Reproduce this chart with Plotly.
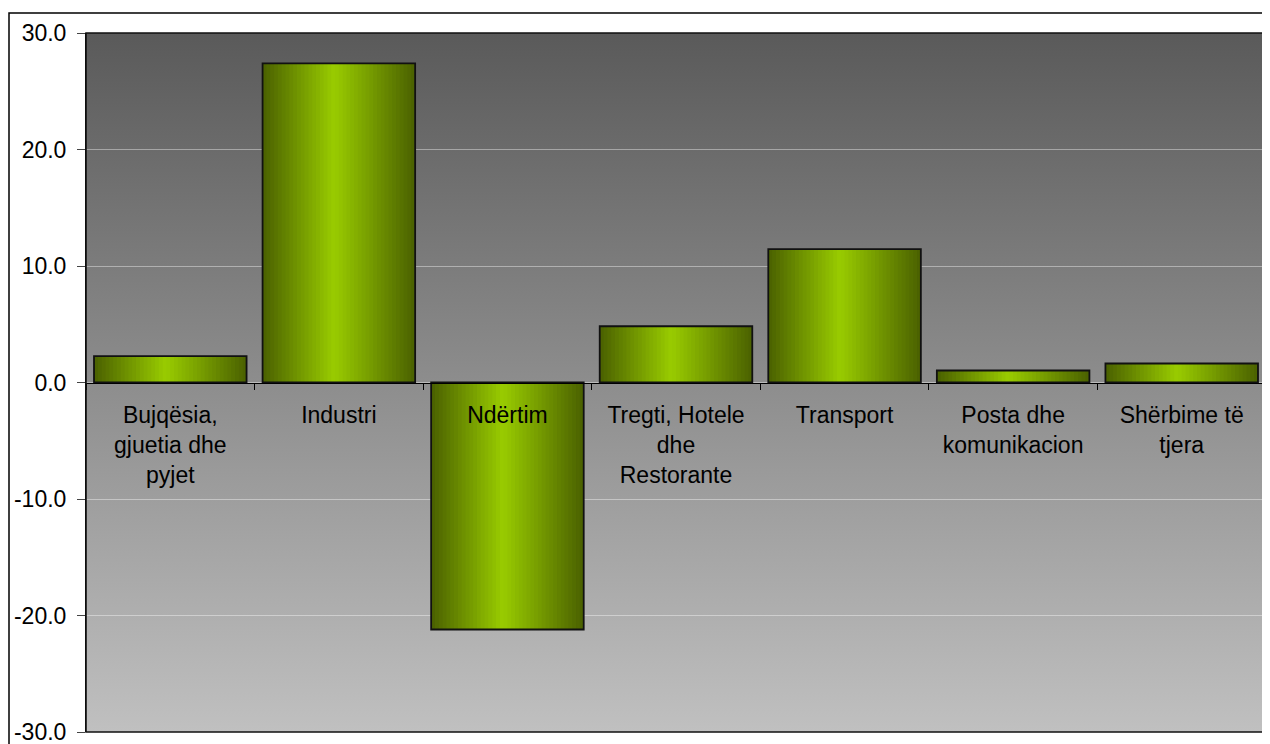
import base64
import plotly.graph_objects as go

# ---- data ----
categories = [
    "Bujqësia,<br>gjuetia dhe<br>pyjet",
    "Industri",
    "Ndërtim",
    "Tregti, Hotele<br>dhe<br>Restorante",
    "Transport",
    "Posta dhe<br>komunikacion",
    "Shërbime të<br>tjera",
]
values = [2.26, 27.4, -21.2, 4.83, 11.44, 1.03, 1.63]
y_ticks = [-30, -20, -10, 0, 10, 20, 30]
y_tick_labels = ["-30.0", "-20.0", "-10.0", "0.0", "10.0", "20.0", "30.0"]

# ---- styling ----
FONT = "Liberation Sans, Arial, sans-serif"
FS = 23
BAR_W = 0.905
N_SLICES = 40
DARK = (74, 96, 0)
BRIGHT = (153, 204, 0)
PEAK = 0.47

fig = go.Figure()

# gradient bars built from narrow overlaid slices of the same data
sw = BAR_W / N_SLICES
for i in range(N_SLICES):
    t = (i + 0.5) / N_SLICES
    if t < PEAK:
        f = t / PEAK
    else:
        f = (1 - t) / (1 - PEAK)
    f = max(0.0, min(1.0, f))
    c = tuple(int(round(DARK[k] + (BRIGHT[k] - DARK[k]) * f)) for k in range(3))
    off = -BAR_W / 2 + i * sw
    w = min(sw * 1.3, BAR_W / 2 - off)
    fig.add_trace(go.Bar(
        x=categories, y=values, width=w, offset=off,
        marker=dict(color=f"rgb{c}", line=dict(width=0)),
        showlegend=False, hoverinfo="skip",
    ))

# outline
fig.add_trace(go.Bar(
    x=categories, y=values, width=BAR_W, offset=-BAR_W / 2,
    marker=dict(color="rgba(0,0,0,0)", line=dict(color="#111", width=1.8)),
    showlegend=False,
))

# background gradient image (plot area)
svg = ('<svg xmlns="http://www.w3.org/2000/svg" width="100" height="100" '
       'viewBox="0 0 100 100" preserveAspectRatio="none"><defs>'
       '<linearGradient id="g" x1="0" y1="0" x2="0" y2="1">'
       '<stop offset="0" stop-color="#5a5a5a"/><stop offset="1" stop-color="#c0c0c0"/>'
       '</linearGradient></defs><rect width="100" height="100" fill="url(#g)"/></svg>')
src = "data:image/svg+xml;base64," + base64.b64encode(svg.encode()).decode()

W, H = 1262, 736
L, R, T, B = 78, 4, 25, 12
pw, ph = W - L - R, H - T - B

fig.update_layout(
    width=W, height=H,
    margin=dict(l=L, r=R, t=T, b=B, autoexpand=False),
    paper_bgcolor="white",
    plot_bgcolor="rgba(0,0,0,0)",
    barmode="overlay",
    font=dict(family=FONT, size=FS, color="black"),
    images=[dict(source=src, xref="paper", yref="paper", x=0, y=1,
                 sizex=1, sizey=1, sizing="stretch", layer="below",
                 xanchor="left", yanchor="top")],
    xaxis=dict(
        type="category", range=[-0.5, 6.5], anchor="free", position=0.5,
        showline=True, linecolor="black", linewidth=1,
        ticks="outside", ticklen=6, tickcolor="black", tickson="boundaries",
        showgrid=False, zeroline=False, ticklabelstandoff=12,
        tickfont=dict(family=FONT, size=FS, color="black"),
        fixedrange=True, automargin=False,
    ),
    yaxis=dict(
        range=[-30, 30], tickvals=y_ticks, ticktext=y_tick_labels,
        showline=True, linecolor="black", linewidth=1,
        ticks="outside", ticklen=8, tickcolor="#444",
        showgrid=True, gridcolor="rgba(255,255,255,0.4)", gridwidth=1,
        zeroline=False, ticklabelstandoff=6, ticklabeloverflow="allow",
        tickfont=dict(family=FONT, size=FS, color="black"),
        fixedrange=True, automargin=False,
    ),
    shapes=[
        dict(type="rect", xref="paper", yref="paper", x0=0, x1=1, y0=0, y1=1,
             line=dict(color="#111", width=1.6), layer="above"),
        dict(type="rect", xref="paper", yref="paper",
             x0=(1 - L) / pw, x1=1 + 20 / pw,
             y0=-30 / ph, y1=1 + (T - 5) / ph,
             line=dict(color="black", width=1.5), layer="above"),
    ],
)

fig.write_html("out.html")
